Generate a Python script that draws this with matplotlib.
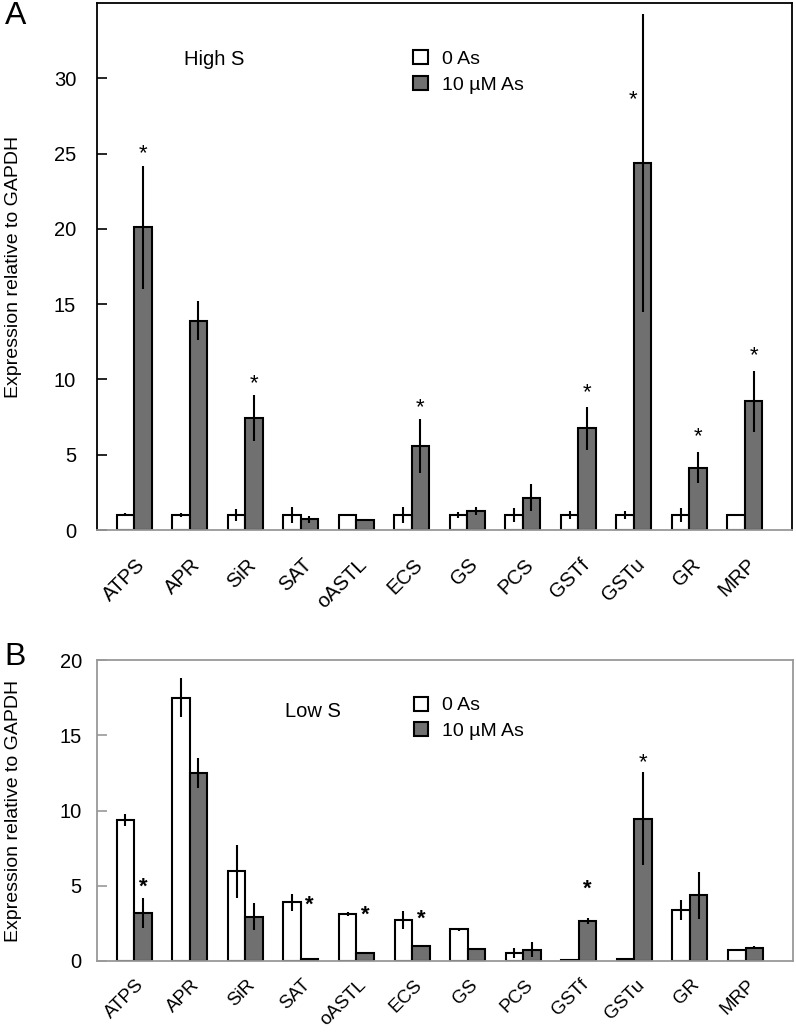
import numpy as np
import matplotlib
matplotlib.use("Agg")
import matplotlib.pyplot as plt
from matplotlib.patches import Patch

plt.rcParams['font.family'] = ['Liberation Sans', 'DejaVu Sans']

genes = ['ATPS', 'APR', 'SiR', 'SAT', 'oASTL', 'ECS', 'GS', 'PCS',
         'GSTf', 'GSTu', 'GR', 'MRP']

# panel A, high S
hi_ctrl = [1.0, 1.0, 1.0, 1.0, 1.0, 1.0, 1.0, 1.0, 1.0, 1.0, 1.0, 1.0]
hi_ctrl_err = [0.1, 0.15, 0.4, 0.5, 0.02, 0.5, 0.2, 0.45, 0.25, 0.25, 0.45, 0.03]
hi_as = [20.1, 13.9, 7.45, 0.7, 0.68, 5.6, 1.28, 2.15, 6.75, 24.4, 4.13, 8.54]
hi_as_err = [4.1, 1.3, 1.55, 0.2, 0.05, 1.8, 0.25, 0.9, 1.45, 9.9, 1.02, 2.0]
hi_star = [25.0, None, 9.7, None, None, 8.15, None, None, 9.1, 28.6, 6.2, 11.6]

# panel B, low S
lo_ctrl = [9.4, 17.5, 5.95, 3.9, 3.13, 2.7, 2.1, 0.53, 0.08, 0.15, 3.4, 0.73]
lo_ctrl_err = [0.4, 1.3, 1.75, 0.55, 0.12, 0.6, 0.1, 0.35, 0.02, 0.08, 0.67, 0.05]
lo_as = [3.18, 12.5, 2.95, 0.1, 0.5, 1.0, 0.8, 0.75, 2.69, 9.47, 4.36, 0.87]
lo_as_err = [1.0, 1.0, 0.9, 0.05, 0.05, 0.05, 0.05, 0.5, 0.2, 3.1, 1.55, 0.1]
lo_star = [4.9, None, None, 3.7, 3.07, 2.8, None, None, 4.8, 13.2, None, None]
lo_star_bold = [True, False, False, True, True, True, False, False, True, False, False, False]

gray = '#707070'
w = 0.315
x = np.arange(len(genes))

fig = plt.figure(figsize=(7.96, 10.33), dpi=100)
axA = fig.add_axes([0.1219, 0.4869, 0.8731, 0.5102])
axB = fig.add_axes([0.1219, 0.0697, 0.8741, 0.2913])


def draw(ax, ctrl, ctrl_err, tr, tr_err, stars, ymax, yticks, spine_col,
         ypad, xpad, xsize, leg_y, bold=None):
    ax.bar(x - w / 2, ctrl, w, color='white', edgecolor='black', linewidth=1.5, zorder=2)
    ax.bar(x + w / 2, tr, w, color=gray, edgecolor='black', linewidth=1.5, zorder=2)
    ax.errorbar(x - w / 2, ctrl, yerr=ctrl_err, fmt='none', ecolor='black',
                elinewidth=1.5, capsize=0, zorder=3)
    ax.errorbar(x + w / 2, tr, yerr=tr_err, fmt='none', ecolor='black',
                elinewidth=1.5, capsize=0, zorder=3)
    for i, s in enumerate(stars):
        if s is None:
            continue
        xs = x[i] + w / 2
        if genes[i] == 'GSTu' and ymax > 30:
            xs -= 0.17
        fw = 'bold' if (bold and bold[i]) else 'normal'
        ax.text(xs, s, '*', ha='center', va='center', fontsize=16, fontweight=fw)
    ax.set_xlim(-0.667, 11.85)
    ax.set_ylim(0, ymax)
    ax.set_yticks(yticks)
    ax.tick_params(axis='y', direction='in', length=7, width=1.2, labelsize=14.5,
                   color=spine_col, pad=ypad)
    ax.tick_params(axis='x', length=0, labelsize=xsize, pad=xpad)
    ax.set_xticks(x + 0.02)
    ax.set_xticklabels(genes, rotation=45, ha='right', rotation_mode='anchor')
    for sp in ax.spines.values():
        sp.set_color(spine_col)
        sp.set_linewidth(1.3)
    ax.spines['bottom'].set_color('#999999')
    ax.set_ylabel('Expression relative to GAPDH', fontsize=14)
    ax.yaxis.set_label_coords(-0.108, 0.5)
    ax.legend(handles=[Patch(facecolor='white', edgecolor='black', linewidth=1.5),
                       Patch(facecolor=gray, edgecolor='black', linewidth=1.5)],
              labels=['0 As', '10 \u00b5M As'], loc='upper left',
              bbox_to_anchor=(0.43, leg_y),
              frameon=False, fontsize=14, handlelength=0.75, handleheight=0.75,
              handletextpad=0.7, labelspacing=0.4)


draw(axA, hi_ctrl, hi_ctrl_err, hi_as, hi_as_err, hi_star, 35,
     [0, 5, 10, 15, 20, 25, 30], 'black', 15, 18, 14.5, 0.944)
axA.text(0.125, 0.892, 'High S', transform=axA.transAxes, fontsize=14.5, va='center')

draw(axB, lo_ctrl, lo_ctrl_err, lo_as, lo_as_err, lo_star, 20,
     [0, 5, 10, 15, 20], '#999999', 11, 11, 13.5, 0.937, bold=lo_star_bold)
axB.text(0.27, 0.83, 'Low S', transform=axB.transAxes, fontsize=14.5, va='center')

fig.text(0.006, 0.9845, 'A', fontsize=23, va='center')
fig.text(0.006, 0.364, 'B', fontsize=23, va='center')

fig.savefig('out.png', dpi=100)
